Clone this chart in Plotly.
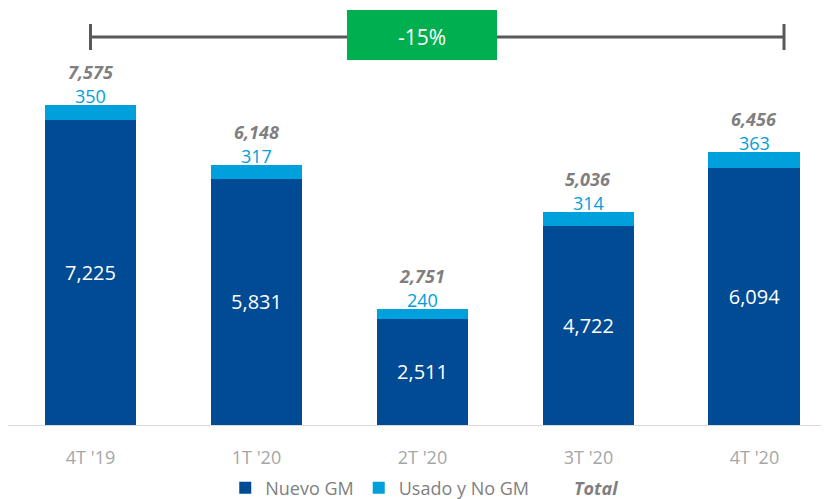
import plotly.graph_objects as go

categories = ["4T '19", "1T '20", "2T '20", "3T '20", "4T '20"]
nuevo_gm = [7225, 5831, 2511, 4722, 6094]
usado_no_gm = [350, 317, 240, 314, 363]
totals = [7575, 6148, 2751, 5036, 6456]
change_label = "-15%"

DARK = "#004B93"
LIGHT = "#00A0DC"
FONT = "Open Sans"

fig = go.Figure()
fig.add_trace(go.Bar(
    x=categories, y=nuevo_gm, name="Nuevo GM", marker_color=DARK,
    marker_line_width=0,
    text=[f"{v:,}" for v in nuevo_gm], textposition="inside",
    insidetextanchor="middle", textfont=dict(color="white", size=20, family=FONT),
    constraintext="none", hoverinfo="skip",
))
fig.add_trace(go.Bar(
    x=categories, y=usado_no_gm, name="Usado y No GM", marker_color=LIGHT,
    marker_line_width=0, hoverinfo="skip",
))
fig.add_trace(go.Scatter(
    x=[None], y=[None], mode="markers", name="<b><i>Total</i></b>",
    marker=dict(color="rgba(0,0,0,0)", size=1),
))

annotations = []
for c, u, t in zip(categories, usado_no_gm, totals):
    annotations.append(dict(x=c, y=t, xref="x", yref="y", text=f"{u:,}",
                            showarrow=False, yanchor="middle", yshift=9,
                            font=dict(color=LIGHT, size=18, family=FONT)))
    annotations.append(dict(x=c, y=t, xref="x", yref="y", text=f"<b><i>{t:,}</i></b>",
                            showarrow=False, yanchor="middle", yshift=33,
                            font=dict(color="#7F7F7F", size=18, family=FONT)))

# bracket with change box
y_line = 9183
annotations.append(dict(x=1.997, y=y_line, xref="x", yref="y", text=change_label,
                        showarrow=False, font=dict(color="white", size=21, family=FONT)))
shapes = [
    dict(type="line", x0=0, x1=4.178, y0=y_line, y1=y_line, xref="x", yref="y",
         line=dict(color="#595959", width=3), layer="below"),
    dict(type="line", x0=0, x1=0, y0=8876, y1=9491, xref="x", yref="y",
         line=dict(color="#595959", width=3)),
    dict(type="line", x0=4.178, x1=4.178, y0=8876, y1=9491, xref="x", yref="y",
         line=dict(color="#595959", width=3)),
    dict(type="rect", x0=1.545, x1=2.449, y0=8639, y1=9822, xref="x", yref="y",
         fillcolor="#00B050", line=dict(width=0), layer="above"),
]

fig.update_layout(
    width=821, height=491,
    margin=dict(l=0, r=0, t=0, b=74, autoexpand=False),
    barmode="stack", bargap=0.446,
    plot_bgcolor="white", paper_bgcolor="white",
    font=dict(family=FONT, color="#7F7F7F"),
    showlegend=True,
    legend=dict(orientation="h", x=0.507, xanchor="center", y=-0.151, yanchor="middle",
                font=dict(size=18, color="#7F7F7F", family=FONT),
                traceorder="normal", itemwidth=30, tracegroupgap=0),
    annotations=annotations, shapes=shapes,
    xaxis=dict(range=[-0.497, 4.449], showline=True, linecolor="#D9D9D9", linewidth=1,
               ticks="outside", ticklen=16, tickcolor="rgba(0,0,0,0)",
               tickfont=dict(size=18, color="#A6A6A6", family=FONT),
               showgrid=False, zeroline=False, fixedrange=True),
    yaxis=dict(range=[0, 9870], visible=False, showgrid=False, zeroline=False,
               fixedrange=True),
)

fig.write_html("out.html")
